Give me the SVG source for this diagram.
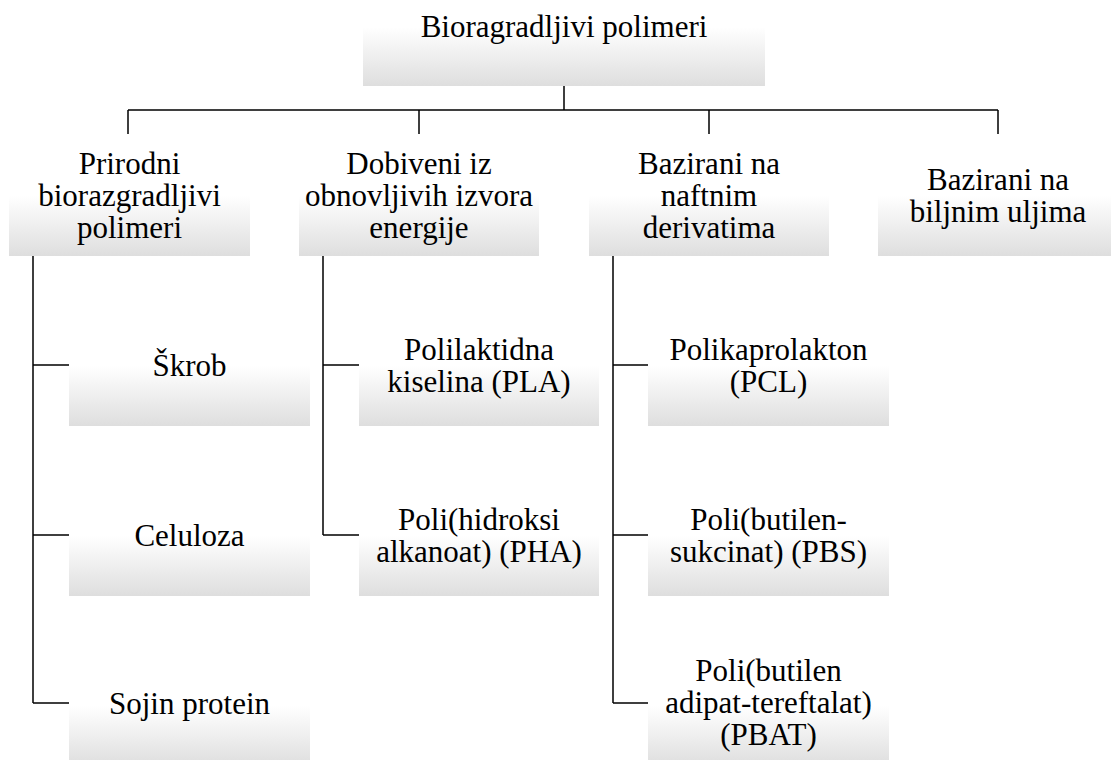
<svg xmlns="http://www.w3.org/2000/svg" width="1111" height="760" viewBox="0 0 1111 760">
<defs>
<linearGradient id="g" x1="0" y1="0" x2="0" y2="1">
<stop offset="0" stop-color="#ffffff"/>
<stop offset="0.5" stop-color="#ffffff"/>
<stop offset="1" stop-color="#dedede"/>
</linearGradient>
<style>
rect.box{fill:url(#g);stroke:none}
text{font-family:'Liberation Serif','Times New Roman',serif;font-size:31px;fill:#000;text-anchor:middle}
#connectors path{fill:none;stroke:#000;stroke-width:1.5}
</style>
</defs>
<rect width="1111" height="760" fill="#fff"/>
<g id="connectors">
<path d="M564 86V110M128 110H998M128 110V134M419 110V134M709 110V134M998 110V134"/>
<path d="M33 256V703M33 365H69M33 535H69M33 703H69"/>
<path d="M323 256V535M323 365H359M323 535H359"/>
<path d="M613 256V703M613 365H648M613 535H648M613 703H648"/>
</g>
<g font-family="Liberation Serif, serif">
<g id="root"><rect class="box" x="363" y="-32" width="402" height="118"/><text x="564" y="37">Bioragradljivi polimeri</text></g>
<g id="prirodni"><rect class="box" x="9" y="135" width="241" height="121"/><text x="129.5" y="174">Prirodni</text><text x="129.5" y="206">biorazgradljivi</text><text x="129.5" y="238">polimeri</text></g>
<g id="dobiveni"><rect class="box" x="299" y="135" width="240" height="121"/><text x="419" y="174">Dobiveni iz</text><text x="419" y="206">obnovljivih izvora</text><text x="419" y="238">energije</text></g>
<g id="naftni"><rect class="box" x="589" y="135" width="240" height="121"/><text x="709" y="174">Bazirani na</text><text x="709" y="206">naftnim</text><text x="709" y="238">derivatima</text></g>
<g id="biljni"><rect class="box" x="878" y="135" width="240" height="121"/><text x="998" y="190">Bazirani na</text><text x="998" y="222">biljnim uljima</text></g>
<g id="skrob"><rect class="box" x="69" y="306" width="241" height="120"/><text x="189.5" y="376">Škrob</text></g>
<g id="celuloza"><rect class="box" x="69" y="476" width="241" height="120"/><text x="189.5" y="546">Celuloza</text></g>
<g id="sojin"><rect class="box" x="69" y="646" width="241" height="120"/><text x="189.5" y="714">Sojin protein</text></g>
<g id="pla"><rect class="box" x="359" y="306" width="240" height="120"/><text x="479" y="360">Polilaktidna</text><text x="479" y="392">kiselina (PLA)</text></g>
<g id="pha"><rect class="box" x="359" y="476" width="240" height="120"/><text x="479" y="530">Poli(hidroksi</text><text x="479" y="562">alkanoat) (PHA)</text></g>
<g id="pcl"><rect class="box" x="648" y="306" width="241" height="120"/><text x="768.5" y="360">Polikaprolakton</text><text x="768.5" y="392">(PCL)</text></g>
<g id="pbs"><rect class="box" x="648" y="476" width="241" height="120"/><text x="768.5" y="530">Poli(butilen-</text><text x="768.5" y="562">sukcinat) (PBS)</text></g>
<g id="pbat"><rect class="box" x="648" y="646" width="241" height="120"/><text x="768.5" y="681">Poli(butilen</text><text x="768.5" y="713">adipat-tereftalat)</text><text x="768.5" y="745">(PBAT)</text></g>
</g>
</svg>
